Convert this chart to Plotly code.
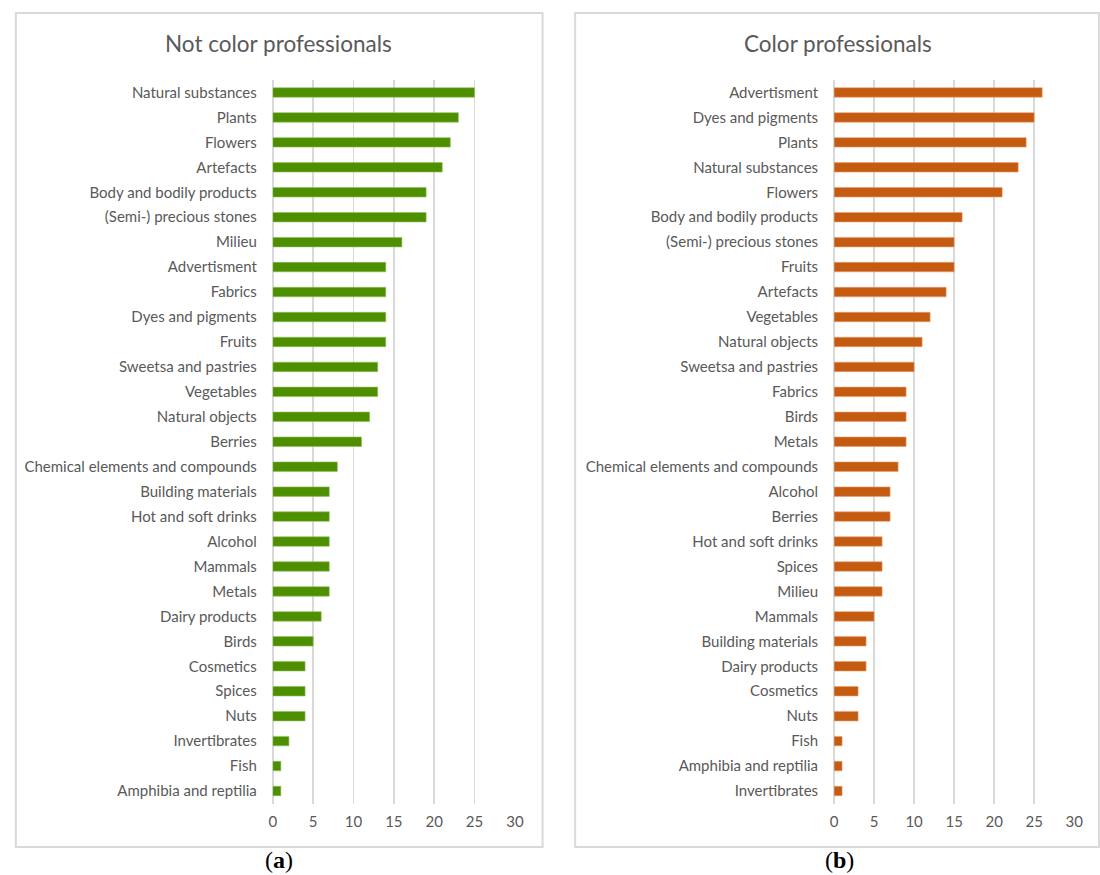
import plotly.graph_objects as go

# ---------------- data ----------------
left_categories = [
    "Natural substances", "Plants", "Flowers", "Artefacts", "Body and bodily products",
    "(Semi-) precious stones", "Milieu", "Advertisment", "Fabrics", "Dyes and pigments",
    "Fruits", "Sweetsa and pastries", "Vegetables", "Natural objects", "Berries",
    "Chemical elements and compounds", "Building materials", "Hot and soft drinks",
    "Alcohol", "Mammals", "Metals", "Dairy products", "Birds", "Cosmetics", "Spices",
    "Nuts", "Invertibrates", "Fish", "Amphibia and reptilia",
]
left_values = [25, 23, 22, 21, 19, 19, 16, 14, 14, 14, 14, 13, 13, 12, 11,
               8, 7, 7, 7, 7, 7, 6, 5, 4, 4, 4, 2, 1, 1]

right_categories = [
    "Advertisment", "Dyes and pigments", "Plants", "Natural substances", "Flowers",
    "Body and bodily products", "(Semi-) precious stones", "Fruits", "Artefacts",
    "Vegetables", "Natural objects", "Sweetsa and pastries", "Fabrics", "Birds",
    "Metals", "Chemical elements and compounds", "Alcohol", "Berries",
    "Hot and soft drinks", "Spices", "Milieu", "Mammals", "Building materials",
    "Dairy products", "Cosmetics", "Nuts", "Fish", "Amphibia and reptilia",
    "Invertibrates",
]
right_values = [26, 25, 24, 23, 21, 16, 15, 15, 14, 12, 11, 10, 9, 9, 9,
                8, 7, 7, 6, 6, 6, 5, 4, 4, 3, 3, 1, 1, 1]

x_ticks = [0, 5, 10, 15, 20, 25, 30]
titles = ["Not color professionals", "Color professionals"]
captions = ["a", "b"]

# ---------------- layout helpers ----------------
W, H = 1100, 875
def px(x):
    return x / W
def py(y):
    return 1 - y / H

TEXT = "#595959"
GRID = "#d9d9d9"
FONT = "Lato"

fig = go.Figure()

fig.add_trace(go.Bar(
    x=left_values, y=left_categories, orientation="h",
    marker=dict(color="#4E8F00", line=dict(color="#8fbf5a", width=0.6)),
    xaxis="x", yaxis="y", showlegend=False,
))
fig.add_trace(go.Bar(
    x=right_values, y=right_categories, orientation="h",
    marker=dict(color="#C55A11", line=dict(color="#e8a070", width=0.6)),
    xaxis="x2", yaxis="y2", showlegend=False,
))

ydom = [py(803.5), py(80)]
xcommon = dict(range=[0, 30], tickvals=x_ticks, showgrid=True, gridcolor=GRID,
               gridwidth=1.5, zeroline=True, zerolinecolor=GRID, zerolinewidth=1.5,
               showline=False, ticks="", tickfont=dict(family=FONT, size=15, color=TEXT),
               ticklabelstandoff=7, fixedrange=True)
ycommon = dict(autorange="reversed", showgrid=False, showline=False, ticks="",
               tickfont=dict(family=FONT, size=15, color=TEXT),
               ticklabelstandoff=15, fixedrange=True)

fig.update_layout(
    width=W, height=H,
    margin=dict(l=0, r=0, t=0, b=0),
    paper_bgcolor="white", plot_bgcolor="white",
    bargap=0.62,
    xaxis=dict(domain=[px(272), px(517)], anchor="y", **xcommon),
    yaxis=dict(domain=ydom, anchor="x", **ycommon),
    xaxis2=dict(domain=[px(840), px(1083)], anchor="y2", **xcommon),
    yaxis2=dict(domain=ydom, anchor="x2", **ycommon),
)

# panel boxes
fig.add_shape(type="rect", xref="paper", yref="paper",
              x0=px(12), x1=px(545), y0=py(847), y1=py(13),
              line=dict(color=GRID, width=2), fillcolor="rgba(0,0,0,0)", layer="below")
fig.add_shape(type="rect", xref="paper", yref="paper",
              x0=px(578), x1=px(1108), y0=py(847), y1=py(13),
              line=dict(color=GRID, width=2), fillcolor="rgba(0,0,0,0)", layer="below")

# titles
for title, xc in zip(titles, [278, 844]):
    fig.add_annotation(text=title, xref="paper", yref="paper", x=px(xc), y=py(43),
                       showarrow=False, xanchor="center", yanchor="middle",
                       font=dict(family=FONT, size=22.5, color=TEXT))

# captions
for cap, xc in zip(captions, [278, 845]):
    fig.add_annotation(text=f"(<b>{cap}</b>)", xref="paper", yref="paper", x=px(xc), y=py(860),
                       showarrow=False, xanchor="center", yanchor="middle",
                       font=dict(family="Liberation Serif", size=24, color="black"))

fig.write_html(
    "out.html",
    config={"displayModeBar": False, "staticPlot": True},
    post_script="document.body.style.margin='0';document.body.style.overflow='hidden';"
                "document.documentElement.style.overflow='hidden';",
)
